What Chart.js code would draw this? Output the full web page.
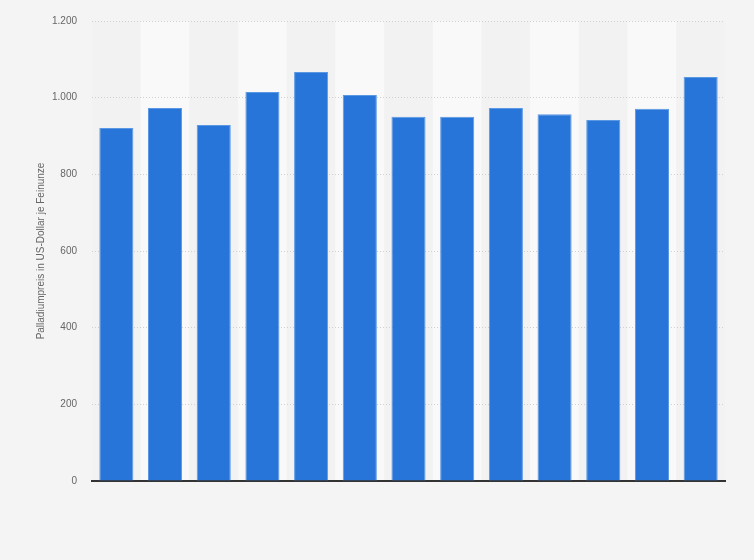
<!DOCTYPE html>
<html lang="de">
<head>
  <meta charset="UTF-8" />
  <title>Palladiumpreis</title>
  <script src="https://cdn.jsdelivr.net/npm/chart.js"></script>
  <style>
    html, body {
      margin: 0;
      padding: 0;
      background: #f4f4f4;
    }
    #wrap {
      width: 754px;
      height: 560px;
    }
  </style>
</head>
<body>

  <div id="wrap">
    <canvas id="chart"></canvas>
  </div>

  <script>
    // 13 Perioden, im Original ohne Achsenbeschriftung
    const categories = ["1", "2", "3", "4", "5", "6", "7", "8", "9", "10", "11", "12", "13"];
    const prices = [921, 973, 929, 1015, 1067, 1007, 950, 950, 973, 957, 942, 971, 1054];
    const yTicks = [0, 200, 400, 600, 800, 1000, 1200];

    // abwechselnd helle/dunkle Spalten hinter den Balken
    const bandPlugin = {
      id: "bands",
      beforeDraw(chart) {
        const { ctx, chartArea, scales } = chart;
        ctx.save();
        ctx.fillStyle = "#f4f4f4";
        ctx.fillRect(0, 0, chart.width, chart.height);
        const step = scales.x.getPixelForValue(1) - scales.x.getPixelForValue(0);
        categories.forEach((_, i) => {
          const cx = scales.x.getPixelForValue(i);
          ctx.fillStyle = i % 2 ? "#f9f9f9" : "#f2f2f2";
          ctx.fillRect(cx - step / 2, chartArea.top, step, chartArea.bottom - chartArea.top);
        });
        ctx.restore();
      }
    };

    new Chart(document.getElementById("chart"), {
      type: "bar",
      data: {
        labels: categories,
        datasets: [{
          data: prices,
          backgroundColor: "#2775d9",
          borderColor: "#5b98e4",
          borderWidth: 1,
          categoryPercentage: 0.7,
          barPercentage: 1
        }]
      },
      options: {
        responsive: true,
        maintainAspectRatio: false,
        animation: false,
        locale: "de-DE",
        layout: { padding: { left: 31, right: 29, top: 20, bottom: 71 } },
        plugins: {
          legend: { display: false },
          tooltip: { enabled: false }
        },
        scales: {
          x: {
            grid: { display: false },
            ticks: { display: false },
            border: { color: "#333", width: 2 }
          },
          y: {
            min: 0,
            max: 1200,
            afterBuildTicks: scale => { scale.ticks = yTicks.map(v => ({ value: v })); },
            afterFit: scale => { scale.width = 61; },
            grid: { color: "#d0d0d0", lineWidth: 1, drawTicks: false },
            border: { display: false, dash: [1, 2] },
            ticks: {
              color: "#666",
              padding: 15,
              font: { family: "Liberation Sans, Arial, sans-serif", size: 10 }
            },
            title: {
              display: true,
              text: "Palladiumpreis in US-Dollar je Feinunze",
              color: "#666",
              font: { family: "Liberation Sans, Arial, sans-serif", size: 10 }
            }
          }
        }
      },
      plugins: [bandPlugin]
    });
  </script>

</body>
</html>
